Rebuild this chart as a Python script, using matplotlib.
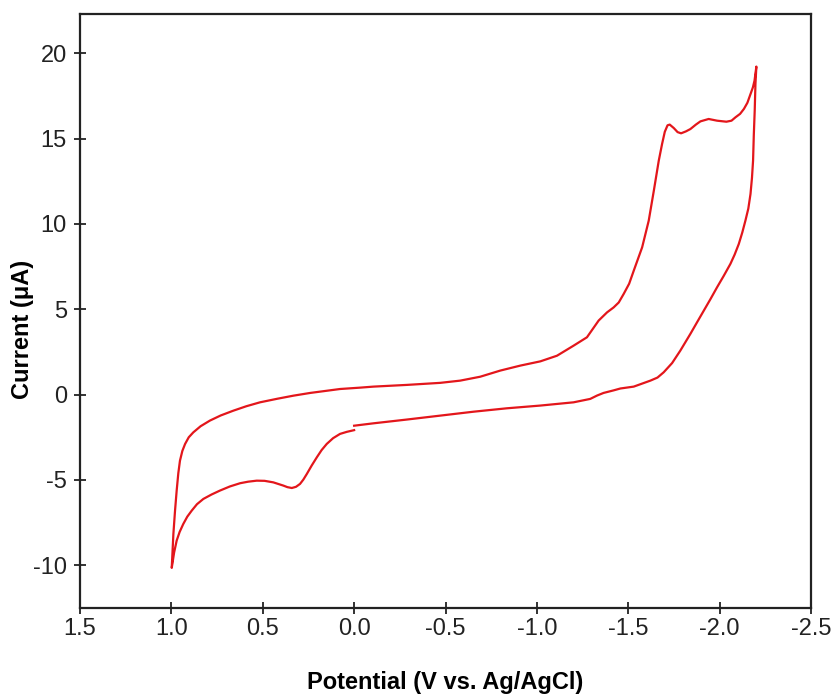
import matplotlib
matplotlib.use("Agg")
import matplotlib.pyplot as plt

plt.rcParams['font.family'] = ['Liberation Sans', 'DejaVu Sans']
plt.rcParams['axes.unicode_minus'] = False

# values (potential in V, current in uA)
# segment 1: from 0.0 V towards +1.0 V (lower left branch)
pot_1 = [0.0, 0.04, 0.077, 0.115, 0.150, 0.178, 0.204, 0.232, 0.259, 0.278,
         0.296, 0.318, 0.341, 0.365, 0.387, 0.442, 0.490, 0.533, 0.580, 0.624,
         0.680, 0.734, 0.780, 0.825, 0.860, 0.889, 0.913, 0.935, 0.955, 0.971,
         0.985, 0.998]
cur_1 = [-2.08, -2.18, -2.30, -2.55, -2.89, -3.25, -3.67, -4.15, -4.65, -4.98,
         -5.23, -5.40, -5.47, -5.42, -5.33, -5.14, -5.05, -5.04, -5.10, -5.19,
         -5.38, -5.62, -5.85, -6.11, -6.42, -6.80, -7.15, -7.58, -8.05, -8.55,
         -9.25, -10.15]

# segment 2: from +1.0 V to -2.2 V (upper branch)
pot_2 = [0.998, 0.993, 0.989, 0.980, 0.971, 0.962, 0.953, 0.940, 0.925, 0.905,
         0.880, 0.840, 0.789, 0.730, 0.661, 0.590, 0.515, 0.420, 0.332, 0.240,
         0.150, 0.077, -0.033, -0.106, -0.288, -0.471, -0.580, -0.690, -0.800,
         -0.909, -1.019, -1.110, -1.201, -1.274, -1.338, -1.384, -1.420, -1.448,
         -1.475, -1.505, -1.530, -1.576, -1.612, -1.640, -1.667, -1.685, -1.700,
         -1.715, -1.727, -1.749, -1.770, -1.789, -1.815, -1.840, -1.870, -1.895,
         -1.940, -1.986, -2.037, -2.065, -2.087, -2.112, -2.133, -2.152, -2.169,
         -2.182, -2.191, -2.201]
cur_2 = [-10.15, -9.0, -8.16, -6.8, -5.62, -4.6, -3.87, -3.3, -2.89, -2.5,
         -2.21, -1.85, -1.52, -1.22, -0.94, -0.68, -0.45, -0.24, -0.06, 0.10,
         0.23, 0.33, 0.41, 0.47, 0.57, 0.69, 0.82, 1.05, 1.41,
         1.70, 1.95, 2.28, 2.87, 3.36, 4.34, 4.82, 5.11, 5.40,
         5.90, 6.50, 7.26, 8.63, 10.19, 11.95, 13.71, 14.68, 15.40,
         15.78, 15.82, 15.62, 15.38, 15.31, 15.42, 15.56, 15.82, 16.01,
         16.15, 16.05, 15.99, 16.05, 16.25, 16.45, 16.74, 17.10, 17.62,
         18.00, 18.40, 19.22]

# segment 3: from -2.2 V back to 0.0 V (lower right branch)
pot_3 = [-2.201, -2.196, -2.192, -2.187, -2.183, -2.177, -2.169, -2.157, -2.141,
         -2.124, -2.105, -2.082, -2.059, -2.022, -1.986, -1.950, -1.913, -1.876,
         -1.840, -1.785, -1.740, -1.694, -1.660, -1.621, -1.530, -1.457, -1.420,
         -1.365, -1.330, -1.292, -1.201, -1.019, -0.836, -0.653, -0.471, -0.288,
         -0.106, 0.0]
cur_3 = [19.22, 18.2, 16.64, 15.2, 13.71, 12.7, 11.76, 10.9, 10.19,
         9.5, 8.83, 8.2, 7.66, 6.95, 6.29, 5.6, 4.92, 4.23,
         3.56, 2.58, 1.85, 1.31, 1.0, 0.82, 0.47, 0.36, 0.25,
         0.10, -0.05, -0.25, -0.45, -0.64, -0.80, -1.0, -1.23, -1.46,
         -1.68, -1.82]

potential = pot_1 + pot_2[1:] + pot_3[1:]
current = cur_1 + cur_2[1:] + cur_3[1:]

fig = plt.figure(figsize=(8.35, 6.96), dpi=100)
ax = fig.add_axes([80 / 835, 1 - 608 / 696, 731 / 835, 594 / 696])

ax.plot(potential, current, color='#e3161b', lw=1.6, solid_joinstyle='round')

ax.set_xlim(1.5, -2.5)
ax.set_ylim(-12.5, 22.3)
ax.set_xticks([1.5, 1.0, 0.5, 0.0, -0.5, -1.0, -1.5, -2.0, -2.5])
ax.set_xticklabels(['1.5', '1.0', '0.5', '0.0', '-0.5', '-1.0', '-1.5', '-2.0', '-2.5'])
ax.set_yticks([-10, -5, 0, 5, 10, 15, 20])
ax.set_yticklabels(['-10', '-5', '0', '5', '10', '15', '20'])

ax.tick_params(direction='inout', length=9, width=1.3, labelsize=17,
               colors='#222222')
ax.tick_params(axis='x', pad=3)
ax.tick_params(axis='y', pad=5)
for s in ax.spines.values():
    s.set_linewidth(1.6)
    s.set_color('#222222')

ax.set_xlabel('Potential (V vs. Ag/AgCl)', fontsize=17, fontweight='bold')
ax.set_ylabel('Current (\u03bcA)', fontsize=17, fontweight='bold')
ax.xaxis.label.set_va('center')
ax.yaxis.label.set_va('center')
ax.xaxis.set_label_coords(0.5, (608 - 683) / 594)
ax.yaxis.set_label_coords((23 - 80) / 731, (608 - 329) / 594)

fig.savefig('out.png', dpi=100)
